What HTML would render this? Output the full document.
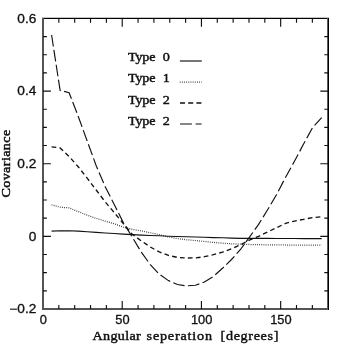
<!DOCTYPE html>
<html><head><meta charset="utf-8"><title>Covariance</title>
<style>
html,body{margin:0;padding:0;background:#fff;}
body{width:346px;height:346px;overflow:hidden;}
svg{display:block;filter:grayscale(1);}
.s{font-family:"Liberation Sans",sans-serif;font-size:12px;fill:#111;stroke:#111;stroke-width:0.3;}
.m{font-family:"Liberation Serif",serif;font-size:12.2px;fill:#111;stroke:#111;stroke-width:0.42;}
.c{fill:none;stroke:#111;stroke-width:1.15;}
</style></head><body>
<svg width="346" height="346" viewBox="0 0 346 346">
<rect x="0" y="0" width="346" height="346" fill="#fff"/>
<rect x="42" y="17" width="287" height="1" fill="#c4c4c4"/>
<rect x="42" y="18" width="287" height="1" fill="#000"/>
<rect x="42" y="18" width="2" height="292" fill="#555"/>
<rect x="42" y="308" width="287" height="2" fill="#555"/>
<rect x="327" y="18" width="1" height="292" fill="#5c5c5c"/>
<rect x="328" y="18" width="1" height="292" fill="#000"/>
<path d="M58.84,309.0 v-3.9 M58.84,18.4 v4.4 M74.69,309.0 v-3.9 M74.69,18.4 v4.4 M90.53,309.0 v-3.9 M90.53,18.4 v4.4 M106.38,309.0 v-3.9 M106.38,18.4 v4.4 M122.22,309.0 v-7.9 M122.22,18.4 v8.4 M138.07,309.0 v-3.9 M138.07,18.4 v4.4 M153.91,309.0 v-3.9 M153.91,18.4 v4.4 M169.76,309.0 v-3.9 M169.76,18.4 v4.4 M185.60,309.0 v-3.9 M185.60,18.4 v4.4 M201.44,309.0 v-7.9 M201.44,18.4 v8.4 M217.29,309.0 v-3.9 M217.29,18.4 v4.4 M233.13,309.0 v-3.9 M233.13,18.4 v4.4 M248.98,309.0 v-3.9 M248.98,18.4 v4.4 M264.82,309.0 v-3.9 M264.82,18.4 v4.4 M280.67,309.0 v-7.9 M280.67,18.4 v8.4 M296.51,309.0 v-3.9 M296.51,18.4 v4.4 M312.36,309.0 v-3.9 M312.36,18.4 v4.4 M43.0,290.84 h3.9 M328.2,290.84 h-3.9 M43.0,272.68 h3.9 M328.2,272.68 h-3.9 M43.0,254.51 h3.9 M328.2,254.51 h-3.9 M43.0,236.35 h7.9 M328.2,236.35 h-7.9 M43.0,218.19 h3.9 M328.2,218.19 h-3.9 M43.0,200.02 h3.9 M328.2,200.02 h-3.9 M43.0,181.86 h3.9 M328.2,181.86 h-3.9 M43.0,163.70 h7.9 M328.2,163.70 h-7.9 M43.0,145.54 h3.9 M328.2,145.54 h-3.9 M43.0,127.38 h3.9 M328.2,127.38 h-3.9 M43.0,109.21 h3.9 M328.2,109.21 h-3.9 M43.0,91.05 h7.9 M328.2,91.05 h-7.9 M43.0,72.89 h3.9 M328.2,72.89 h-3.9 M43.0,54.72 h3.9 M328.2,54.72 h-3.9 M43.0,36.56 h3.9 M328.2,36.56 h-3.9" fill="none" stroke="#111" stroke-width="1.15"/>
<g class="s">
<text transform="translate(36.3,22.8) scale(1.14,1)" text-anchor="end">0.6</text>
<text transform="translate(36.3,95.4) scale(1.14,1)" text-anchor="end">0.4</text>
<text transform="translate(36.3,168.1) scale(1.14,1)" text-anchor="end">0.2</text>
<text transform="translate(36.3,240.8) scale(1.14,1)" text-anchor="end">0</text>
<text transform="translate(36.3,313.4) scale(1.14,1)" text-anchor="end">−0.2</text>
<text transform="translate(43.2,324.2) scale(1.07,1)" text-anchor="middle">0</text>
<text transform="translate(122.4,324.2) scale(1.07,1)" text-anchor="middle">50</text>
<text transform="translate(201.6,324.2) scale(1.07,1)" text-anchor="middle">100</text>
<text transform="translate(280.9,324.2) scale(1.07,1)" text-anchor="middle">150</text>

<text class="m" style="stroke-width:0.45" transform="translate(10.1,197.6) rotate(-90) scale(1.16,1)" textLength="58.53" lengthAdjust="spacing">Covariance</text>
</g>
<g class="m">
<text transform="translate(127.9,61.1) scale(1.16,1)" textLength="23.79" lengthAdjust="spacing">Type</text><text transform="translate(162.7,61.1) scale(1.16,1)">0</text>
<text transform="translate(127.9,82.3) scale(1.16,1)" textLength="23.79" lengthAdjust="spacing">Type</text><text transform="translate(162.7,82.3) scale(1.16,1)">1</text>
<text transform="translate(127.9,103.5) scale(1.16,1)" textLength="23.79" lengthAdjust="spacing">Type</text><text transform="translate(162.7,103.5) scale(1.16,1)">2</text>
<text transform="translate(127.9,124.7) scale(1.16,1)" textLength="23.79" lengthAdjust="spacing">Type</text><text transform="translate(162.7,124.7) scale(1.16,1)">2</text>

<text transform="translate(92.6,340.2) scale(1.16,1)" textLength="41.55" lengthAdjust="spacing">Angular</text>
<text transform="translate(146.6,340.2) scale(1.16,1)" textLength="56.38" lengthAdjust="spacing">seperation</text>
<text transform="translate(220.6,340.2) scale(1.16,1)" textLength="49.83" lengthAdjust="spacing">[degrees]</text>

</g>
<path class="c" d="M51.6,231.1 L60.1,230.8 L69.1,230.8 L78.2,231.1 L87.2,231.8 L96.2,232.4 L105.2,233.0 L114.2,233.5 L123.3,234.1 L132.3,234.6 L141.3,235.1 L150.3,235.5 L159.3,235.8 L168.4,236.2 L177.4,236.5 L186.4,236.8 L195.4,237.0 L204.4,237.3 L213.5,237.6 L222.5,237.8 L231.5,238.1 L240.5,238.3 L249.5,238.3 L258.6,238.4 L267.6,238.4 L276.6,238.5 L285.6,238.5 L294.6,238.5 L303.7,238.6 L312.7,238.6 L321.7,238.6"/>
<path class="c" d="M51.6,204.8 L60.1,207.2 L69.1,207.9 L78.2,211.5 L87.2,215.1 L96.2,218.4 L105.2,221.1 L114.2,223.8 L123.3,227.1 L132.3,229.4 L141.3,230.9 L150.3,232.8 L159.3,234.6 L168.4,236.9 L177.4,238.6 L186.4,239.7 L195.4,240.5 L204.4,241.5 L213.5,242.4 L222.5,243.2 L231.5,243.8 L240.5,244.2 L249.5,244.5 L258.6,244.7 L267.6,244.8 L276.6,244.9 L285.6,245.0 L294.6,245.0 L303.7,245.1 L312.7,245.1 L321.7,245.1" stroke-dasharray="0.8 1.35" style="stroke-width:1.25;stroke:#222"/>
<path class="c" d="M51.6,146.9 L60.1,147.9 L69.1,156.5 L78.2,166.8 L87.2,178.2 L96.2,190.0 L105.2,201.9 L114.2,212.5 L123.3,223.6 L132.3,234.3 L141.3,240.9 L150.3,247.0 L159.3,251.9 L168.4,255.4 L177.4,257.4 L186.4,258.0 L195.4,257.9 L204.4,256.7 L213.5,254.6 L222.5,252.1 L231.5,248.8 L240.5,244.8 L249.5,240.0 L258.6,236.3 L267.6,232.0 L276.6,227.7 L285.6,223.3 L294.6,221.1 L303.7,219.3 L312.7,217.6 L321.7,216.7" stroke-dasharray="4.7 3.26" style="stroke-width:1.35"/>
<path class="c" d="M51.6,35.0 L60.1,90.4 L69.1,92.7 L78.2,116.2 L87.2,141.1 L96.2,165.7 L105.2,186.7 L114.2,204.4 L123.3,222.6 L132.3,237.1 L141.3,252.2 L150.3,264.6 L159.3,274.2 L168.4,280.6 L177.4,284.5 L186.4,285.9 L195.4,285.2 L204.4,282.1 L213.5,276.3 L222.5,268.3 L231.5,259.5 L240.5,249.5 L249.5,237.1 L258.6,224.4 L267.6,209.8 L276.6,194.5 L285.6,177.2 L294.6,161.0 L303.7,143.8 L312.7,127.3 L321.7,117.7" stroke-dasharray="11.6 3.45"/>
<path class="c" d="M179.9,61.0 H201.8"/>
<path class="c" d="M179.8,82 H201.8" stroke-dasharray="0.8 1.35" style="stroke-width:1.25;stroke:#222"/>
<path class="c" d="M180,103.0 H201.6" stroke-dasharray="5 3.2" style="stroke-width:1.5"/>
<path class="c" d="M180,124.0 H201.6" stroke-dasharray="11.9 3.7"/>
</svg>
</body></html>
